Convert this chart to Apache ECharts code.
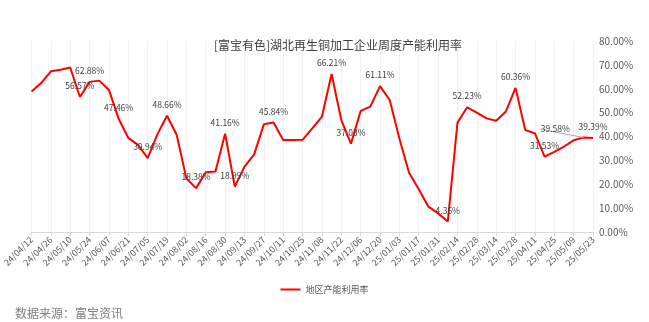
<!DOCTYPE html>
<html>
<head>
<meta charset="utf-8">
<style>
  html, body { margin: 0; padding: 0; background: #ffffff; }
  #chart { width: 649px; height: 322px; }
</style>
<script src="https://cdn.jsdelivr.net/npm/echarts@6/dist/echarts.min.js"></script>
</head>
<body>
<div id="chart"></div>
<script>
// Weekly dates (YY/MM/DD)
const weeks = [
  '24/04/12','24/04/19','24/04/26','24/05/03','24/05/10','24/05/17','24/05/24','24/05/31',
  '24/06/07','24/06/14','24/06/21','24/06/28','24/07/05','24/07/12','24/07/19','24/07/26',
  '24/08/02','24/08/09','24/08/16','24/08/23','24/08/30','24/09/06','24/09/13','24/09/20',
  '24/09/27','24/10/04','24/10/11','24/10/18','24/10/25','24/11/01','24/11/08','24/11/15',
  '24/11/22','24/11/29','24/12/06','24/12/13','24/12/20','24/12/27','25/01/03','25/01/10',
  '25/01/17','25/01/24','25/01/31','25/02/07','25/02/14','25/02/21','25/02/28','25/03/07',
  '25/03/14','25/03/21','25/03/28','25/04/04','25/04/11','25/04/18','25/04/25','25/05/02',
  '25/05/09','25/05/16','25/05/23'
];

// Regional capacity utilisation, %
const utilisation = [
  58.8, 62.4, 67.3, 68.0, 68.9, 56.57, 62.88, 63.4,
  59.5, 47.46, 39.4, 36.5, 30.94, 40.9, 48.66, 40.6,
  22.4, 18.38, 25.0, 25.3, 41.16, 18.99, 27.4, 32.5,
  45.1, 45.84, 38.5, 38.5, 38.6, 43.4, 48.3, 66.21,
  46.9, 37.03, 50.7, 52.5, 61.11, 55.3, 39.2, 24.8,
  17.9, 10.6, 7.8, 4.36, 45.8, 52.23, 50.0, 47.6,
  46.6, 50.5, 60.36, 42.7, 41.3, 31.53, 33.6, 35.8,
  38.4, 39.58, 39.39
];

// Points that carry a value label
const labelledWeeks = [5, 6, 9, 12, 14, 17, 20, 21, 25, 31, 33, 36, 43, 45, 50, 53, 57, 58];

const yTicks = { min: 0, max: 80, step: 10 };

const seriesName = '地区产能利用率';
const titleText = '[富宝有色]湖北再生铜加工企业周度产能利用率';
const sourceText = '数据来源：富宝资讯';

const FONT = '"Noto Sans CJK SC", "Noto Sans", sans-serif';

const seriesData = utilisation.map((v, i) => {
  const item = { value: v };
  if (labelledWeeks.includes(i)) {
    item.label = { show: true };
    if (i === 57) item.labelLine = { show: true };
  }
  return item;
});

const chart = echarts.init(document.getElementById('chart'), null, { renderer: 'canvas' });

chart.setOption({
  backgroundColor: '#ffffff',
  animation: false,
  textStyle: { fontFamily: FONT },
  title: [
    {
      text: titleText,
      left: 333, top: 34, textAlign: 'center',
      textStyle: { fontFamily: FONT, fontSize: 12, fontWeight: 'normal', color: '#404040' }
    },
    {
      text: sourceText,
      left: 10, top: 302,
      textStyle: { fontFamily: FONT, fontSize: 12, fontWeight: 'normal', color: '#7f7f7f' }
    }
  ],
  legend: {
    data: [seriesName],
    left: 'center', top: 280,
    itemWidth: 20, itemHeight: 2, itemGap: 4,
    icon: 'rect',
    itemStyle: { color: '#ff0000', opacity: 1 },
    textStyle: { fontFamily: FONT, fontSize: 9, color: '#595959' }
  },
  grid: { left: 30, right: 56, top: 41, bottom: 90, containLabel: false },
  xAxis: {
    type: 'category',
    data: weeks,
    boundaryGap: false,
    axisLine: { lineStyle: { color: '#d9d9d9', width: 1 } },
    axisTick: { show: true, interval: 1, length: 4, lineStyle: { color: '#d9d9d9' } },
    splitLine: { show: true, interval: 1, lineStyle: { color: '#f2f2f2', width: 1 } },
    axisLabel: {
      interval: 1, rotate: 45, margin: 6,
      fontFamily: FONT, fontSize: 9, color: '#595959'
    }
  },
  yAxis: {
    type: 'value',
    position: 'right',
    min: yTicks.min, max: yTicks.max, interval: yTicks.step,
    axisLine: { show: false },
    axisTick: { show: false },
    splitLine: { show: false },
    axisLabel: {
      margin: 6,
      fontFamily: FONT, fontSize: 10, color: '#595959',
      formatter: v => v.toFixed(2) + '%'
    }
  },
  series: [
    {
      name: seriesName,
      type: 'line',
      data: seriesData,
      showSymbol: true,
      symbol: 'circle',
      symbolSize: 0,
      lineStyle: { color: '#ff0000', width: 2 },
      itemStyle: { color: '#ff0000' },
      label: {
        show: false,
        position: 'top',
        distance: 7,
        fontFamily: FONT, fontSize: 8.5, color: '#404040',
        formatter: p => p.value.toFixed(2) + '%'
      },
      labelLine: { lineStyle: { color: '#a6a6a6', width: 1 } },
      labelLayout: p => (p.dataIndex === 57 ? { dx: -28, dy: 3 } : {})
    }
  ]
});
</script>
</body>
</html>
